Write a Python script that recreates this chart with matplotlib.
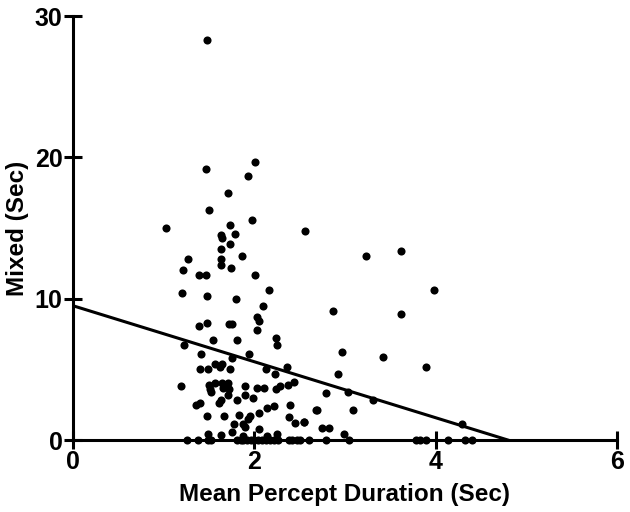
import numpy as np
import matplotlib
matplotlib.use('Agg')
import matplotlib.pyplot as plt

plt.rcParams['font.family'] = ['Liberation Sans', 'DejaVu Sans']

# mean percept duration (sec) vs mixed duration (sec)
dur = [1.48, 1.47, 2.01, 1.93, 1.71, 1.50, 1.03, 1.97, 2.56, 1.73,
       1.63, 1.64, 1.79, 1.73, 1.63, 1.86, 1.63, 1.27, 1.63, 1.74,
       1.21, 1.39, 1.47, 2.01, 1.20, 1.48, 1.80, 2.16,
       2.10, 1.39, 1.48, 1.72, 1.75, 2.03, 2.05, 2.03, 1.54, 1.81,
       2.24, 2.25, 1.22, 1.41, 1.94, 1.75, 1.57, 1.64, 1.62, 1.40,
       1.49, 1.73, 2.13, 2.23, 2.36, 1.19, 1.50, 1.57, 1.64, 1.71,
       1.51, 1.65, 1.72, 1.90, 2.03, 2.11, 2.24, 2.28, 2.37, 2.44,
       1.52, 1.71, 1.90, 1.99, 1.63, 1.61, 1.81, 1.36, 1.40, 2.14,
       2.22, 2.39, 2.69, 1.48, 1.66, 1.83, 1.95, 1.93, 2.05, 2.38,
       2.45, 2.55, 1.78, 1.87, 1.90, 2.05, 1.75, 1.49, 1.63, 1.87,
       2.14, 2.25,
       3.23, 3.62, 3.98, 2.87, 3.62, 2.97, 3.42, 3.89, 2.92, 2.79,
       3.03, 3.31, 2.68, 3.09, 2.55, 2.75, 2.82, 2.99, 4.29,
       1.26, 1.38, 1.49, 1.52, 1.81, 1.85, 1.88, 1.92, 1.96, 2.00,
       2.04, 2.08, 2.13, 2.17, 2.22, 2.26, 2.38, 2.42, 2.47, 2.50,
       2.60, 2.79, 3.05, 3.78, 3.83, 3.90, 4.14, 4.32, 4.40]
mixed = [28.3, 19.2, 19.7, 18.7, 17.5, 16.3, 15.0, 15.6, 14.8, 15.2,
         14.5, 14.3, 14.6, 13.9, 13.5, 13.0, 12.8, 12.8, 12.4, 12.2,
         12.0, 11.7, 11.7, 11.7, 10.4, 10.2, 10.0, 10.6,
         9.5, 8.1, 8.3, 8.2, 8.2, 8.7, 8.4, 7.8, 7.1, 7.1,
         7.2, 6.7, 6.7, 6.1, 6.1, 5.8, 5.4, 5.4, 5.2, 5.0,
         5.0, 5.0, 5.0, 4.7, 5.2, 3.8, 3.9, 4.0, 4.0, 4.0,
         3.6, 3.7, 3.6, 3.8, 3.7, 3.7, 3.6, 3.8, 3.9, 4.1,
         3.4, 3.2, 3.2, 3.0, 2.8, 2.6, 2.8, 2.5, 2.6, 2.3,
         2.4, 2.5, 2.1, 1.7, 1.7, 1.8, 1.7, 1.5, 1.9, 1.6,
         1.2, 1.3, 1.1, 1.1, 0.9, 0.8, 0.6, 0.4, 0.35, 0.3,
         0.3, 0.4,
         13.0, 13.4, 10.6, 9.1, 8.9, 6.2, 5.9, 5.2, 4.7, 3.3,
         3.4, 2.8, 2.1, 2.1, 1.3, 0.85, 0.85, 0.4, 1.1,
         0, 0, 0, 0, 0, 0, 0, 0, 0, 0,
         0, 0, 0, 0, 0, 0, 0, 0, 0, 0,
         0, 0, 0, 0, 0, 0, 0, 0, 0]

# linear regression line as drawn
fit_intercept = 9.5
fit_slope = -1.98

xticks = [0, 2, 4, 6]
yticks = [0, 10, 20, 30]

fig = plt.figure(figsize=(6.3, 5.12), dpi=100)
ax = fig.add_axes([0.116, 0.1406, 0.863, 0.828])

ax.scatter(dur, mixed, s=34, color='black', zorder=3, clip_on=False, linewidths=0)

x_end = -fit_intercept / fit_slope
xs = np.array([0, x_end])
ax.plot(xs, fit_intercept + fit_slope * xs, color='black', lw=2.2, zorder=2)

ax.set_xlim(0, 6)
ax.set_ylim(0, 30)
ax.set_xticks(xticks)
ax.set_yticks(yticks)
for s in ['top', 'right']:
    ax.spines[s].set_visible(False)
for s in ['left', 'bottom']:
    ax.spines[s].set_linewidth(2.2)
ax.tick_params(direction='inout', length=13, width=2.2, labelsize=18, pad=1)
for lab in ax.get_xticklabels() + ax.get_yticklabels():
    lab.set_fontweight('bold')

ax.set_xlabel('Mean Percept Duration (Sec)', fontsize=17.5, fontweight='bold', labelpad=6)
ax.set_ylabel('Mixed (Sec)', fontsize=17.5, fontweight='bold', labelpad=4)

fig.savefig('out.png', dpi=100)
